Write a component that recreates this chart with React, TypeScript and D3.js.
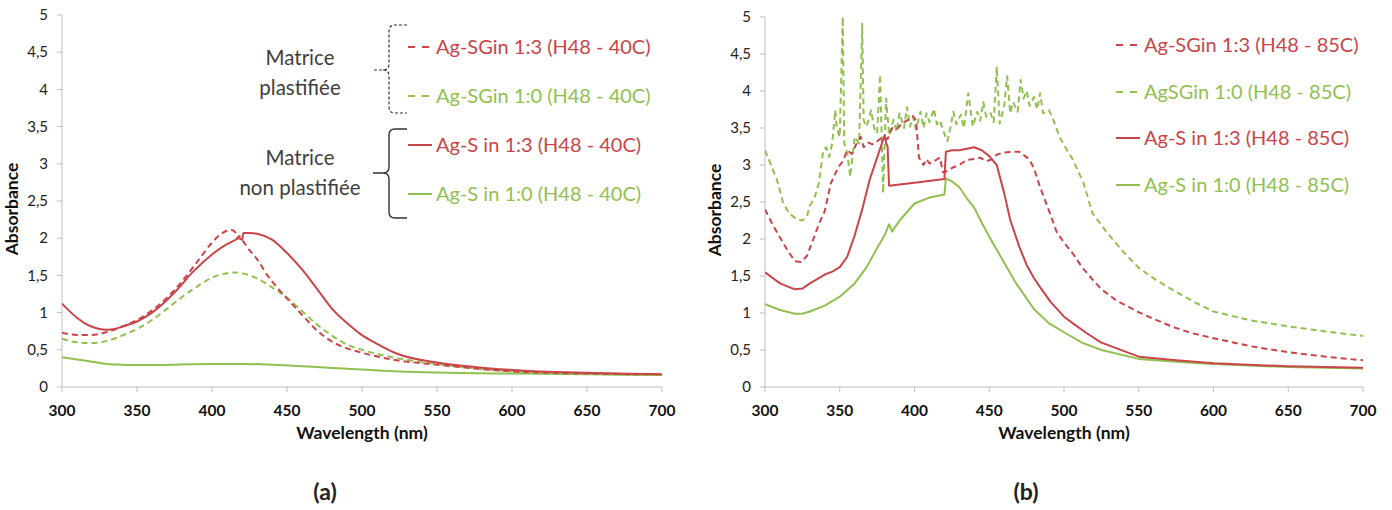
import React from "react";
import * as d3 from "d3";

// ---------- DATA ----------
const xTicks = [300, 350, 400, 450, 500, 550, 600, 650, 700];
const yTicks = [0, 0.5, 1, 1.5, 2, 2.5, 3, 3.5, 4, 4.5, 5];

// Chart (a) – H48 - 40C
const aRedDashX = [300, 310, 320, 330, 340, 350, 360, 370, 380, 390, 400, 405, 410, 413, 416, 417, 418, 420, 425, 430, 437, 445, 450, 460, 470, 480, 490, 500, 520, 550, 575, 600, 650, 700];
const aRedDashY = [0.73, 0.7, 0.7, 0.74, 0.81, 0.9, 1.03, 1.2, 1.42, 1.68, 1.94, 2.04, 2.1, 2.11, 2.07, 2.0, 2.03, 1.98, 1.84, 1.72, 1.5, 1.3, 1.19, 0.97, 0.76, 0.61, 0.52, 0.46, 0.37, 0.3, 0.25, 0.21, 0.18, 0.17];

const aGreenDashX = [300, 310, 320, 330, 340, 350, 360, 370, 380, 390, 400, 410, 415, 420, 430, 440, 450, 460, 470, 480, 490, 500, 520, 550, 575, 600, 650, 700];
const aGreenDashY = [0.65, 0.6, 0.59, 0.62, 0.69, 0.78, 0.9, 1.05, 1.21, 1.35, 1.47, 1.53, 1.54, 1.53, 1.46, 1.34, 1.2, 1.02, 0.84, 0.69, 0.57, 0.5, 0.4, 0.31, 0.25, 0.21, 0.18, 0.16];

const aRedSolidX = [300, 305, 310, 315, 320, 325, 330, 335, 340, 350, 360, 370, 380, 385, 390, 400, 410, 415, 418, 420, 421, 425, 430, 440, 450, 460, 470, 481, 490, 499, 510, 523, 550, 575, 600, 650, 700];
const aRedSolidY = [1.12, 1.02, 0.93, 0.86, 0.81, 0.78, 0.77, 0.78, 0.81, 0.88, 1.0, 1.17, 1.38, 1.5, 1.6, 1.78, 1.92, 1.97, 2.0, 1.98, 2.07, 2.07, 2.06, 1.98, 1.8, 1.58, 1.32, 1.03, 0.86, 0.71, 0.58, 0.45, 0.33, 0.27, 0.23, 0.19, 0.17];

const aGreenSolidX = [300, 310, 320, 330, 340, 350, 375, 400, 420, 440, 460, 480, 500, 525, 550, 600, 650, 700];
const aGreenSolidY = [0.4, 0.37, 0.34, 0.31, 0.3, 0.295, 0.3, 0.31, 0.31, 0.3, 0.28, 0.255, 0.235, 0.21, 0.195, 0.18, 0.17, 0.16];

// Chart (b) – H48 - 85C
const bRedDashX = [300, 305, 310, 315, 320, 324, 328, 332, 336, 340, 344, 349, 352, 355, 358, 361, 364, 366, 369, 372, 375, 379, 382, 385, 388, 392, 395, 399, 401, 403, 406, 408, 410, 413, 417, 419, 422, 426, 430, 435, 440, 444, 448, 451, 455, 460, 466, 470, 474, 477, 480, 484, 490, 495, 500, 506, 512, 517, 525, 535, 550, 560, 573, 585, 600, 625, 650, 675, 700];
const bRedDashY = [2.4, 2.2, 2.02, 1.85, 1.7, 1.69, 1.77, 1.98, 2.2, 2.38, 2.75, 2.97, 3.05, 3.2, 3.15, 3.28, 3.38, 3.24, 3.3, 3.28, 3.32, 3.38, 3.35, 3.5, 3.48, 3.57, 3.6, 3.66, 3.6, 3.1, 3.0, 3.08, 3.02, 3.05, 3.1, 2.9, 2.92, 2.97, 3.0, 3.07, 3.08, 3.1, 3.05, 3.07, 3.14, 3.17, 3.18, 3.18, 3.12, 3.07, 2.95, 2.7, 2.38, 2.1, 1.95, 1.8, 1.62, 1.5, 1.32, 1.17, 1.01, 0.92, 0.81, 0.73, 0.66, 0.55, 0.47, 0.41, 0.36];

const bGreenDashX = [300, 305, 308, 312, 316, 321, 325, 328, 330, 333, 336, 339, 341, 343, 345, 347, 348, 350, 352, 353, 355, 357, 360, 363, 365, 366, 368, 371, 373, 375, 377, 379, 381, 383, 386, 388, 390, 393, 395, 397, 399, 401, 404, 406, 408, 410, 413, 415, 417, 420, 422, 424, 426, 428, 431, 433, 436, 439, 442, 444, 446, 448, 451, 453, 455, 457, 460, 462, 464, 466, 469, 471, 473, 475, 477, 480, 482, 484, 486, 490, 493, 497, 502, 506, 513, 519, 529, 540, 550, 562, 573, 586, 600, 625, 650, 675, 700];
const bGreenDashY = [3.2, 2.95, 2.8, 2.5, 2.35, 2.27, 2.25, 2.3, 2.45, 2.55, 2.75, 3.2, 3.24, 3.11, 3.3, 3.74, 3.5, 3.38, 5.0, 3.3, 3.16, 2.84, 3.38, 3.29, 4.91, 3.6, 3.52, 3.74, 3.5, 3.43, 4.22, 2.62, 3.9, 3.4, 3.61, 3.45, 3.7, 3.5, 3.78, 3.52, 3.65, 3.48, 3.72, 3.5, 3.7, 3.58, 3.76, 3.55, 3.6, 3.42, 3.32, 3.5, 3.72, 3.55, 3.68, 3.5, 3.97, 3.52, 3.72, 3.6, 3.85, 3.65, 3.7, 3.58, 4.33, 3.56, 3.8, 4.2, 3.7, 3.85, 3.72, 4.15, 3.9, 4.0, 3.8, 3.92, 3.75, 3.97, 3.7, 3.74, 3.6, 3.38, 3.2, 3.07, 2.76, 2.35, 2.08, 1.82, 1.61, 1.44, 1.31, 1.16, 1.02, 0.9, 0.82, 0.75, 0.69];

const bRedSolidX = [300, 310, 320, 325, 330, 340, 345, 350, 355, 360, 365, 370, 375, 378, 380, 381, 382, 383, 400, 420, 421, 425, 430, 435, 440, 445, 450, 455, 460, 464, 470, 475, 480, 484, 491, 500, 506, 515, 525, 550, 575, 600, 650, 700];
const bRedSolidY = [1.55, 1.4, 1.32, 1.33, 1.4, 1.52, 1.56, 1.62, 1.76, 2.05, 2.4, 2.8, 3.1, 3.28, 3.4, 3.3, 3.25, 2.72, 2.76, 2.81, 3.18, 3.2, 3.2, 3.22, 3.24, 3.2, 3.12, 3.0, 2.62, 2.26, 1.9, 1.65, 1.47, 1.35, 1.15, 0.95, 0.86, 0.73, 0.6, 0.41, 0.36, 0.32, 0.28, 0.26];

const bGreenSolidX = [300, 310, 320, 325, 330, 340, 350, 360, 368, 375, 380, 383, 385, 390, 400, 410, 420, 421, 425, 430, 435, 440, 445, 450, 460, 468, 480, 490, 500, 512, 525, 550, 575, 600, 650, 700];
const bGreenSolidY = [1.12, 1.04, 0.99, 0.99, 1.02, 1.1, 1.22, 1.4, 1.62, 1.88, 2.05, 2.2, 2.1, 2.25, 2.48, 2.56, 2.6, 2.82, 2.78, 2.7, 2.55, 2.42, 2.22, 2.03, 1.68, 1.4, 1.05, 0.86, 0.74, 0.6, 0.5, 0.38, 0.34, 0.31, 0.27, 0.25];

const aLegend = ["Ag-SGin 1:3 (H48 - 40C)", "Ag-SGin 1:0 (H48 - 40C)", "Ag-S in 1:3 (H48 - 40C)", "Ag-S in 1:0 (H48 - 40C)"];
const bLegend = ["Ag-SGin 1:3 (H48 - 85C)", "AgSGin 1:0 (H48 - 85C)", "Ag-S in 1:3 (H48 - 85C)", "Ag-S in 1:0 (H48 - 85C)"];
const aLegendRows = [47, 96, 145, 194];
const bLegendRows = [45, 92, 138, 185];

// ---------- STYLE ----------
const RED = "#C9454A";
const GREEN = "#92C050";
const AXIS = "#BFBFBF";
const FONT = "Lato, 'Open Sans', sans-serif";

type Series = { xs: number[]; ys: number[]; color: string; dashed: boolean; curve: d3.CurveFactory };

function Chart(props: {
  x0: number; x1: number; yTop: number; yBottom: number;
  series: Series[]; label: string; labelX: number;
  legend: string[]; legendX: number; legendY: number[];
  braces?: boolean;
}) {
  const { x0, x1, yTop, yBottom } = props;
  const x = d3.scaleLinear().domain([300, 700]).range([x0, x1]);
  const y = d3.scaleLinear().domain([0, 5]).range([yBottom, yTop]);
  const cx = (x0 + x1) / 2;
  const colors = [RED, GREEN, RED, GREEN];
  const dashed = [true, true, false, false];
  return (
    <g>
      <defs>
        <clipPath id={"clip" + props.label}>
          <rect x={x0} y={yTop - 1} width={x1 - x0 + 2} height={yBottom - yTop + 1} />
        </clipPath>
      </defs>
      <line x1={x0} x2={x0} y1={yTop} y2={yBottom} stroke={AXIS} strokeWidth={1} />
      <line x1={x0} x2={x1} y1={yBottom} y2={yBottom} stroke={AXIS} strokeWidth={1} />
      {yTicks.map((t) => (
        <g key={"y" + t}>
          <line x1={x0 - 5} x2={x0} y1={y(t)} y2={y(t)} stroke={AXIS} />
          <text x={x0 - 14} y={y(t)} dy="0.35em" textAnchor="end" fontSize={15} fill="#222" fontFamily={FONT}>
            {String(t).replace(".", ",")}
          </text>
        </g>
      ))}
      {xTicks.map((t) => (
        <g key={"x" + t}>
          <line x1={x(t)} x2={x(t)} y1={yBottom} y2={yBottom + 5} stroke={AXIS} />
          <text x={x(t)} y={yBottom + 29} textAnchor="middle" fontSize={15.5} fontWeight="bold" fill="#111" fontFamily={FONT}>
            {t}
          </text>
        </g>
      ))}
      <text x={cx} y={yBottom + 52} textAnchor="middle" fontSize={17.5} fontWeight="bold" fill="#111" fontFamily={FONT}>
        Wavelength (nm)
      </text>
      <text transform={`translate(${x0 - 44},${(yTop + yBottom) / 2 + 8}) rotate(-90)`} textAnchor="middle" fontSize={17.5} fontWeight="bold" fill="#111" fontFamily={FONT}>
        Absorbance
      </text>
      <g clipPath={`url(#clip${props.label})`}>
        {props.series.map((s, i) => {
          const pts = s.xs.map((v, k) => [v, s.ys[k]] as [number, number]);
          const gen = d3.line<[number, number]>().x((d) => x(d[0])).y((d) => y(d[1])).curve(s.curve);
          return (
            <path key={i} d={gen(pts) || ""} fill="none" stroke={s.color} strokeWidth={2}
              strokeDasharray={s.dashed ? "6,4" : undefined} strokeLinejoin="round" />
          );
        })}
      </g>
      {props.legend.map((t, i) => (
        <g key={"l" + i}>
          <line x1={props.legendX} x2={props.legendX + 24} y1={props.legendY[i]} y2={props.legendY[i]}
            stroke={colors[i]} strokeWidth={2} strokeDasharray={dashed[i] ? "7,7" : undefined} />
          <text x={props.legendX + 28} y={props.legendY[i]} dy="0.35em" fontSize={20} fill={colors[i]} fontFamily={FONT}>
            {t}
          </text>
        </g>
      ))}
      {props.braces && (
        <g fontFamily={FONT} fontSize={20.5} fill="#404040" textAnchor="middle">
          <text x={300} y={58} dy="0.35em">Matrice</text>
          <text x={300} y={88} dy="0.35em">plastifiée</text>
          <text x={300} y={158} dy="0.35em">Matrice</text>
          <text x={300} y={188} dy="0.35em">non plastifiée</text>
          <path d="M407,25 L395,25 Q389,25 389,31 L389,64 Q389,70 383,70 L373,70 M383,70 Q389,70 389,76 L389,107 Q389,113 395,113 L407,113"
            fill="none" stroke="#333" strokeWidth={1.2} strokeDasharray="3,2" />
          <path d="M407,129 L395,129 Q389,129 389,135 L389,167 Q389,173 383,173 L373,173 M383,173 Q389,173 389,179 L389,212 Q389,218 395,218 L407,218"
            fill="none" stroke="#333" strokeWidth={1.4} />
        </g>
      )}
      <text x={props.labelX} y={492} dy="0.35em" textAnchor="middle" fontSize={23} fontWeight="bold" fill="#222" fontFamily={FONT}>
        ({props.label})
      </text>
    </g>
  );
}

export default function App() {
  const smooth = d3.curveMonotoneX;
  const lin = d3.curveLinear;
  const seriesA: Series[] = [
    { xs: aGreenSolidX, ys: aGreenSolidY, color: GREEN, dashed: false, curve: smooth },
    { xs: aGreenDashX, ys: aGreenDashY, color: GREEN, dashed: true, curve: smooth },
    { xs: aRedDashX, ys: aRedDashY, color: RED, dashed: true, curve: smooth },
    { xs: aRedSolidX, ys: aRedSolidY, color: RED, dashed: false, curve: smooth },
  ];
  const seriesB: Series[] = [
    { xs: bGreenDashX, ys: bGreenDashY, color: GREEN, dashed: true, curve: lin },
    { xs: bRedDashX, ys: bRedDashY, color: RED, dashed: true, curve: lin },
    { xs: bGreenSolidX, ys: bGreenSolidY, color: GREEN, dashed: false, curve: lin },
    { xs: bRedSolidX, ys: bRedSolidY, color: RED, dashed: false, curve: lin },
  ];
  return (
    <svg width={1392} height={510} style={{ position: "absolute", left: 0, top: 0, background: "#fff" }}>
      <rect width={1392} height={510} fill="#fff" />
      <Chart x0={62} x1={662} yTop={15} yBottom={387} series={seriesA} label="a" labelX={325}
        legend={aLegend} legendX={408} legendY={aLegendRows} braces />
      <Chart x0={765} x1={1363} yTop={17} yBottom={387} series={seriesB} label="b" labelX={1026}
        legend={bLegend} legendX={1116} legendY={bLegendRows} />
    </svg>
  );
}
